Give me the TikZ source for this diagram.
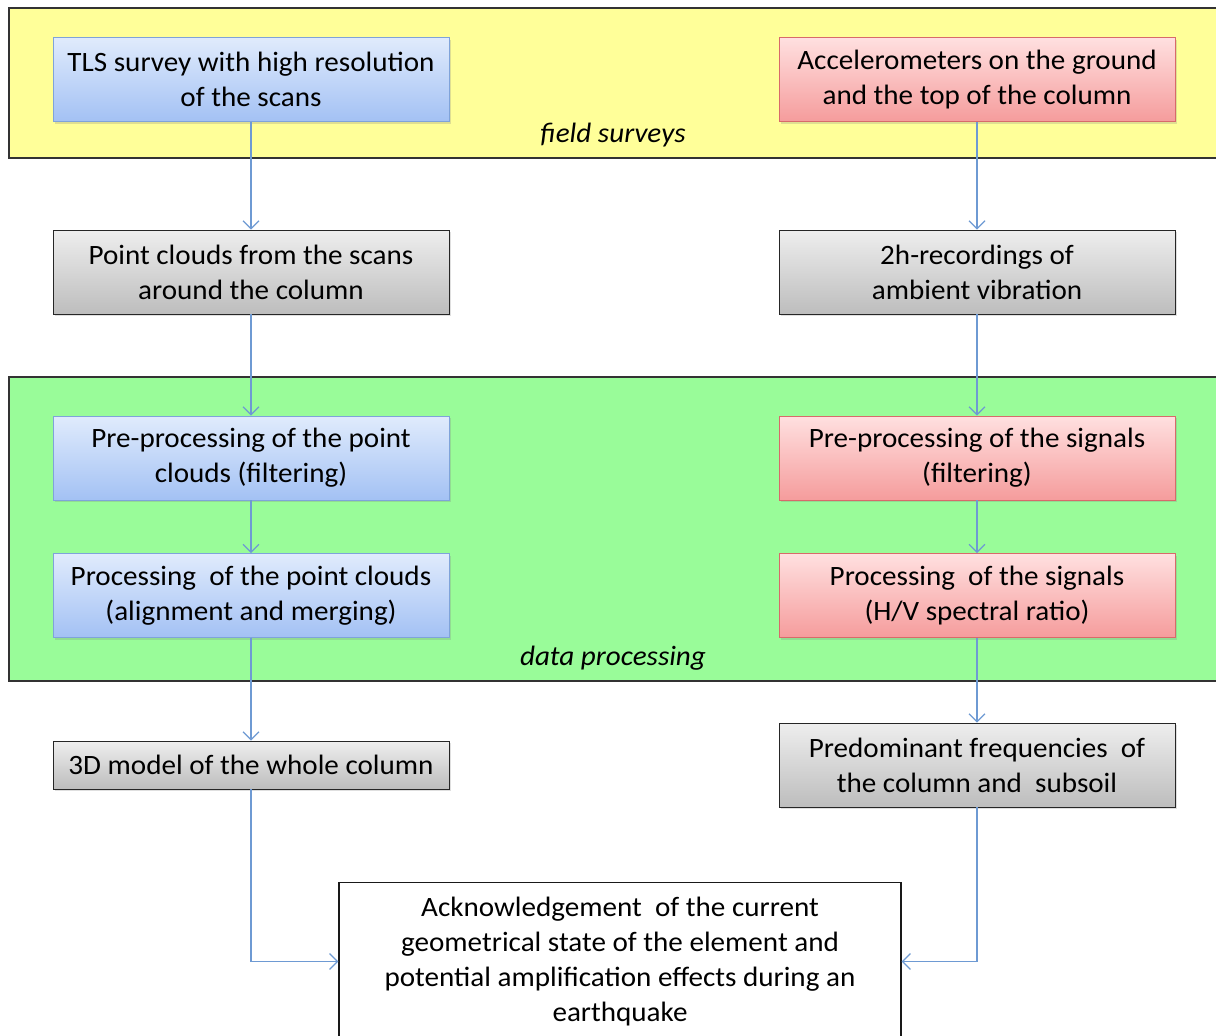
\documentclass[tikz,border=0pt]{standalone}
\usepackage{fontspec}
\setmainfont{Carlito}[FakeStretch=1.04]
\usepackage{tikz}
\usetikzlibrary{arrows.meta,positioning,shadows}

\definecolor{bandyellow}{HTML}{FFFF99}
\definecolor{bandgreen}{HTML}{99FC99}
\definecolor{linkblue}{HTML}{6E9AD3}
\definecolor{blueborder}{HTML}{7FA3DA}
\definecolor{bluetop}{HTML}{E0EBFC}
\definecolor{bluebot}{HTML}{A3C1F4}
\definecolor{redborder}{HTML}{D86A6A}
\definecolor{redtop}{HTML}{FFE0E0}
\definecolor{redbot}{HTML}{F59C9C}
\definecolor{greytop}{HTML}{EEEEEE}
\definecolor{greybot}{HTML}{BDBDBD}

\begin{document}
\begin{tikzpicture}[x=0.5pt, y=-0.5pt, font=\fontsize{14}{17.5}\selectfont,
        box/.style={rectangle, draw, align=center, minimum width=198pt, minimum height=42pt, inner sep=0pt,
            drop shadow={shadow xshift=1.2pt, shadow yshift=-1.2pt, opacity=0.25}},
        bluebox/.style={box, draw=blueborder, top color=bluetop, bottom color=bluebot},
        redbox/.style={box, draw=redborder, top color=redtop, bottom color=redbot},
        greybox/.style={box, draw=black!85, top color=greytop, bottom color=greybot},
        link/.style={draw=linkblue, line width=0.6pt, -{Straight Barb[length=4pt,width=8pt]}},
        band/.style={draw=black!80, line width=0.9pt}]

        \useasboundingbox (0,0) rectangle (1216,1035);

        % background bands
        \draw[band, fill=bandyellow] (9,8) rectangle (1222,158);
        \draw[band, fill=bandgreen] (9,377) rectangle (1222,681);
        \node (fieldlbl) at (613,135) {\itshape field surveys};
        \node (proclbl) at (613,658) {\itshape data processing};

        % laser scanning branch
        \node[bluebox] (tls) at (251,79.5) {TLS survey with high resolution\\of the scans};
        \node[greybox] (clouds) at (251,272) {Point clouds from the scans\\around the column};
        \node[bluebox] (preclouds) at (251,458) {Pre-processing of the point\\clouds (filtering)};
        \node[bluebox] (procclouds) at (251,595.5) {Processing\ \ of the point clouds\\(alignment and merging)};
        \node[greybox, minimum height=24pt] (model) at (251,765) {3D model of the whole column};

        % vibration branch
        \node[redbox] (accel) at (977,79.5) {Accelerometers on the ground\\and the top of the column};
        \node[greybox] (records) at (977,272) {2h-recordings of\\ambient vibration};
        \node[redbox] (presig) at (977,458) {Pre-processing of the signals\\(filtering)};
        \node[redbox] (procsig) at (977,595.5) {Processing\ \ of the signals\\(H/V spectral ratio)};
        \node[greybox] (freq) at (977,765) {Predominant frequencies\ \ of\\the column and\ \ subsoil};

        % result
        \node[rectangle, draw=black!90, line width=0.6pt, fill=white, minimum width=281pt, minimum height=79pt,
            align=center, inner sep=0pt] (result) at (620,961.5)
            {Acknowledgement\ \ of the current\\geometrical state of the element and\\potential amplification effects during an\\earthquake};

        \draw[link] (tls) -- (clouds);
        \draw[link] (clouds) -- (preclouds);
        \draw[link] (preclouds) -- (procclouds);
        \draw[link] (procclouds) -- (model);
        \draw[link] (accel) -- (records);
        \draw[link] (records) -- (presig);
        \draw[link] (presig) -- (procsig);
        \draw[link] (procsig) -- (freq);
        \draw[link] (model.south) |- (result.west);
        \draw[link] (freq.south) |- (result.east);
    \end{tikzpicture}
\end{document}
